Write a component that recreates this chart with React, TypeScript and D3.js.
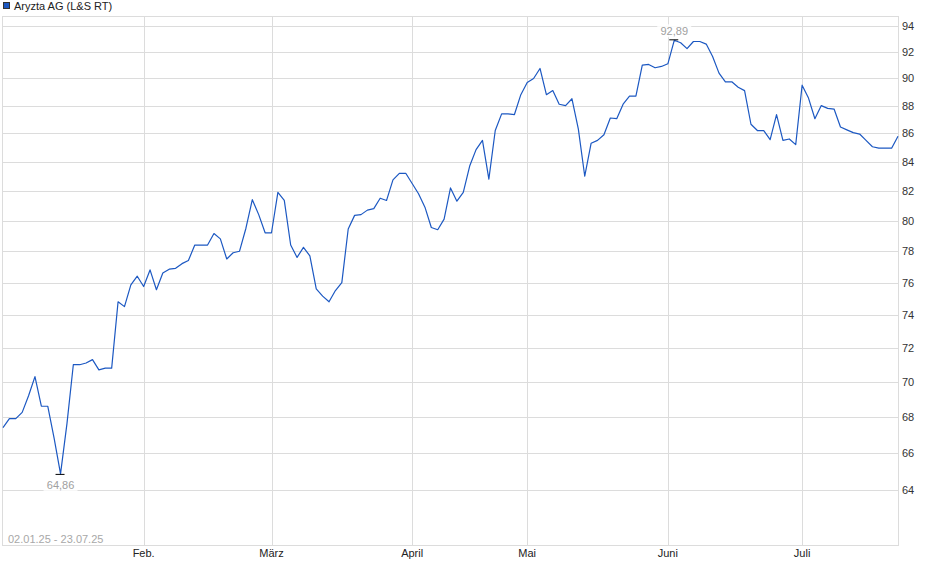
import React from 'react';
import * as d3 from 'd3';

const width = 940;
const height = 579;

// closing prices per trading day (L&S RT)
const jan = [67.4, 67.9, 67.9, 68.25, 69.2, 70.3, 68.6, 68.6, 66.8, 64.86, 67.6, 71.0, 71.0, 71.1, 71.3, 70.7, 70.8, 70.8, 74.8, 74.5, 75.85, 76.4];
const feb = [75.75, 76.8, 75.55, 76.6, 76.85, 76.9, 77.2, 77.4, 78.4, 78.4, 78.4, 79.15, 78.8, 77.5, 77.9, 78.0, 79.5, 81.4, 80.4, 79.2];
const mar = [79.2, 81.9, 81.35, 78.4, 77.6, 78.25, 77.7, 75.6, 75.15, 74.8, 75.5, 76.0, 79.45, 80.35, 80.4, 80.7, 80.8, 81.5, 81.35, 82.75, 83.2, 83.2];
const apr = [82.5, 81.8, 80.9, 79.55, 79.4, 80.1, 82.2, 81.3, 81.9, 83.7, 84.85, 85.5, 82.8, 86.2, 87.4, 87.4, 87.35, 88.8];
const mai = [89.7, 90.0, 90.75, 88.8, 89.1, 88.1, 88.0, 88.5, 86.3, 83.0, 85.3, 85.5, 85.9, 87.1, 87.05, 88.1, 88.7, 88.7, 91.0, 91.05, 90.8, 90.9];
const jun = [91.1, 92.89, 92.7, 92.25, 92.8, 92.8, 92.6, 91.65, 90.4, 89.75, 89.75, 89.35, 89.1, 86.65, 86.2, 86.2, 85.55, 87.35, 85.5, 85.6, 85.2];
const jul = [89.5, 88.55, 87.05, 88.0, 87.8, 87.75, 86.45, 86.25, 86.05, 85.95, 85.5, 85.05, 84.95, 84.95, 84.95, 85.8];

const months = [jan, feb, mar, apr, mai, jun, jul];
const monthLabels = ['Feb.', 'März', 'April', 'Mai', 'Juni', 'Juli'];
const yTicks = [64, 66, 68, 70, 72, 74, 76, 78, 80, 82, 84, 86, 88, 90, 92, 94];

const seriesName = 'Aryzta AG (L&S RT)';
const rangeLabel = '02.01.25 - 23.07.25';

const values = months.flat();
const monthStarts = months
  .map((_, k) => d3.sum(months.slice(0, k), m => m.length))
  .slice(1);

const left = 3;
const right = 898;
const top = 16;
const bottom = 545;

const font = "'Liberation Sans', Arial, sans-serif";
const gridColor = '#dcdcdc';
const lineColor = '#1c58c2';

const fmt = (v: number) => v.toFixed(2).replace('.', ',');

const App: React.FC = () => {
  const x = d3.scaleLinear().domain([0, values.length - 1]).range([left, right]);
  const y = d3.scaleLog().domain([61.15, 94.78]).range([bottom, top]);

  const line = d3
    .line<number>()
    .x((_, i) => x(i))
    .y(d => y(d));

  const iMin = d3.minIndex(values);
  const iMax = d3.maxIndex(values);
  const crisp = (v: number) => Math.round(v) + 0.5;

  return (
    <div style={{ position: 'absolute', left: 0, top: 0 }}>
      <svg width={width} height={height} style={{ display: 'block', fontFamily: font }}>
        <rect width={width} height={height} fill="#fff" />

        {/* legend */}
        <rect x={3.5} y={2.5} width={6} height={6} fill={lineColor} stroke="#333" strokeWidth={1} />
        <text x={14} y={10} fontSize={11} fill="#222">
          {seriesName}
        </text>

        {/* horizontal grid + y labels */}
        {yTicks.map(t => (
          <g key={t}>
            <line x1={left} x2={right} y1={crisp(y(t))} y2={crisp(y(t))} stroke={gridColor} />
            <text x={902} y={y(t) + 4} fontSize={11} fill="#333">
              {t}
            </text>
          </g>
        ))}

        {/* vertical grid + month labels */}
        {monthStarts.map((idx, k) => (
          <g key={monthLabels[k]}>
            <line x1={crisp(x(idx))} x2={crisp(x(idx))} y1={top} y2={bottom} stroke={gridColor} />
            <text x={x(idx)} y={557} fontSize={11} fill="#222" textAnchor="middle">
              {monthLabels[k]}
            </text>
          </g>
        ))}

        {/* frame */}
        <rect
          x={left - 0.5}
          y={top + 0.5}
          width={right - left + 1}
          height={bottom - top}
          fill="none"
          stroke={gridColor}
        />

        <text x={8} y={543} fontSize={11} fill="#a8a8a8">
          {rangeLabel}
        </text>

        <path d={line(values) ?? ''} fill="none" stroke={lineColor} strokeWidth={1.2} strokeLinejoin="round" />

        {/* min marker */}
        <line x1={x(iMin) - 5} x2={x(iMin) + 4} y1={y(values[iMin]) + 0.5} y2={y(values[iMin]) + 0.5} stroke="#000" />
        <rect x={x(iMin) - 17} y={y(values[iMin]) + 4} width={34} height={13} fill="#fff" opacity={0.85} />
        <text x={x(iMin)} y={y(values[iMin]) + 15} fontSize={11} fill="#a0a0a0" textAnchor="middle">
          {fmt(values[iMin])}
        </text>

        {/* max marker */}
        <line x1={x(iMax) - 5} x2={x(iMax) + 4} y1={y(values[iMax]) - 0.5} y2={y(values[iMax]) - 0.5} stroke="#000" />
        <rect x={x(iMax) - 17} y={y(values[iMax]) - 16} width={34} height={13} fill="#fff" opacity={0.85} />
        <text x={x(iMax)} y={y(values[iMax]) - 5} fontSize={11} fill="#a0a0a0" textAnchor="middle">
          {fmt(values[iMax])}
        </text>
      </svg>
    </div>
  );
};

export default App;
